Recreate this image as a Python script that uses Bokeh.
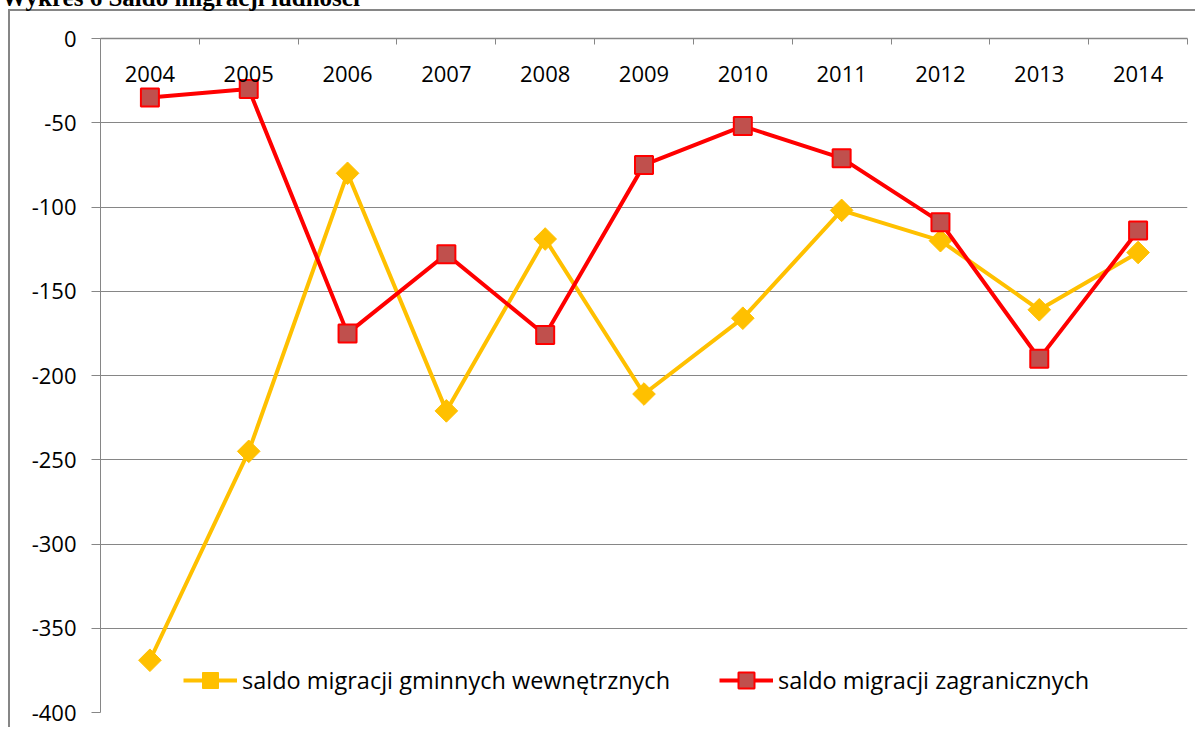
import numpy as np
from bokeh.plotting import figure
from bokeh.models import (Range1d, FixedTicker, SingleIntervalTicker, Legend,
                          LegendItem, Label, PrintfTickFormatter)
from bokeh.embed import file_html
from bokeh.resources import INLINE

# ---------------- data ----------------
years = ["2004", "2005", "2006", "2007", "2008", "2009",
         "2010", "2011", "2012", "2013", "2014"]
saldo_gminne = [-369, -245, -80, -221, -119, -211, -166, -102, -120, -161, -127]
saldo_zagraniczne = [-35, -30, -175, -128, -176, -75, -52, -71, -109, -190, -114]
y_min, y_max, y_step = -400, 0, 50
title_text = "Wykres 6 Saldo migracji ludności"
legend_labels = ["saldo migracji gminnych wewnętrznych",
                 "saldo migracji zagranicznych"]

# ---------------- layout constants ----------------
W, H = 1195, 727
left, right, top, bottom = 100, 1187, 38, 712
GRAY = "#868686"
AXIS_FONT = "Open Sans"
LEG_FONT = "Open Sans"

n = len(years)
xs = np.arange(n) + 0.5

p = figure(width=W, height=H, output_backend="svg", toolbar_location=None,
           x_range=Range1d(0, n), y_range=Range1d(y_min, y_max),
           x_axis_location="above",
           min_border_left=left, min_border_right=W - right,
           min_border_top=top, min_border_bottom=H - bottom)
p.outline_line_color = None
p.border_fill_color = None
p.background_fill_color = "white"
p.styles = {
    "background": ("linear-gradient(#868686,#868686) 8px 9px / 2px 900px no-repeat, "
                   "linear-gradient(#868686,#868686) 8px 9px / 1400px 2px no-repeat, "
                   "#ffffff"),
}

# x axis (top) - labels at category centres, ticks at boundaries
xa = p.xaxis[0]
xa.ticker = FixedTicker(ticks=list(xs), minor_ticks=list(range(n + 1)))
xa.major_label_overrides = {float(x): y for x, y in zip(xs, years)}
xa.major_tick_line_color = None
xa.major_tick_in = 0
xa.major_tick_out = 0
xa.minor_tick_in = 6
xa.minor_tick_out = 0
xa.minor_tick_line_color = GRAY
xa.axis_line_color = GRAY
xa.axis_line_width = 1.5
xa.major_label_standoff = -43
xa.major_label_text_font = AXIS_FONT
xa.major_label_text_font_size = "22px"
xa.major_label_text_color = "black"

# y axis
ya = p.yaxis[0]
ya.ticker = SingleIntervalTicker(interval=y_step, num_minor_ticks=0)
ya.formatter = PrintfTickFormatter(format="%d")
ya.major_tick_out = 9
ya.major_tick_in = 0
ya.major_tick_line_color = GRAY
ya.minor_tick_line_color = None
ya.axis_line_color = GRAY
ya.major_label_standoff = 15
ya.major_label_text_font = AXIS_FONT
ya.major_label_text_font_size = "22px"
ya.major_label_text_color = "black"

p.xgrid.visible = False
p.ygrid.grid_line_color = GRAY
p.ygrid.grid_line_width = 1

# series
l1 = p.line(xs, saldo_gminne, line_color="#FFC000", line_width=4)
m1 = p.scatter(xs, saldo_gminne, marker="square", angle=np.pi / 4, size=16,
               fill_color="#FFC000", line_color="#FFC000")
l2 = p.line(xs, saldo_zagraniczne, line_color="#FF0000", line_width=4)
m2 = p.scatter(xs, saldo_zagraniczne, marker="square", size=18,
               fill_color="#C0504D", line_color="#FF0000", line_width=2)


def make_legend(label, rends, x0):
    leg = Legend(items=[LegendItem(label=label, renderers=rends)],
                 location=(x0, 12), orientation="horizontal")
    leg.border_line_color = None
    leg.background_fill_alpha = 0
    leg.padding = 0
    leg.margin = 0
    leg.spacing = 0
    leg.glyph_width = 54
    leg.glyph_height = 40
    leg.label_standoff = 5
    leg.label_text_font = LEG_FONT
    leg.label_text_font_size = "23.5px"
    leg.label_text_color = "black"
    return leg


p.add_layout(make_legend(legend_labels[0], [l1, m1], 183 - left))
p.add_layout(make_legend(legend_labels[1], [l2, m2], 719 - left))

# title (cut off at the top of the page, as in the original); placed in a
# side panel so that it is not clipped to the plot frame
title = Label(x=1, y=-3, x_units="canvas", y_units="canvas",
              text=title_text, text_font="Liberation Serif",
              text_font_style="bold", text_font_size="25px",
              text_baseline="alphabetic", text_color="black")
p.add_layout(title, "above")

open("out.html", "w").write(file_html(p, INLINE))
